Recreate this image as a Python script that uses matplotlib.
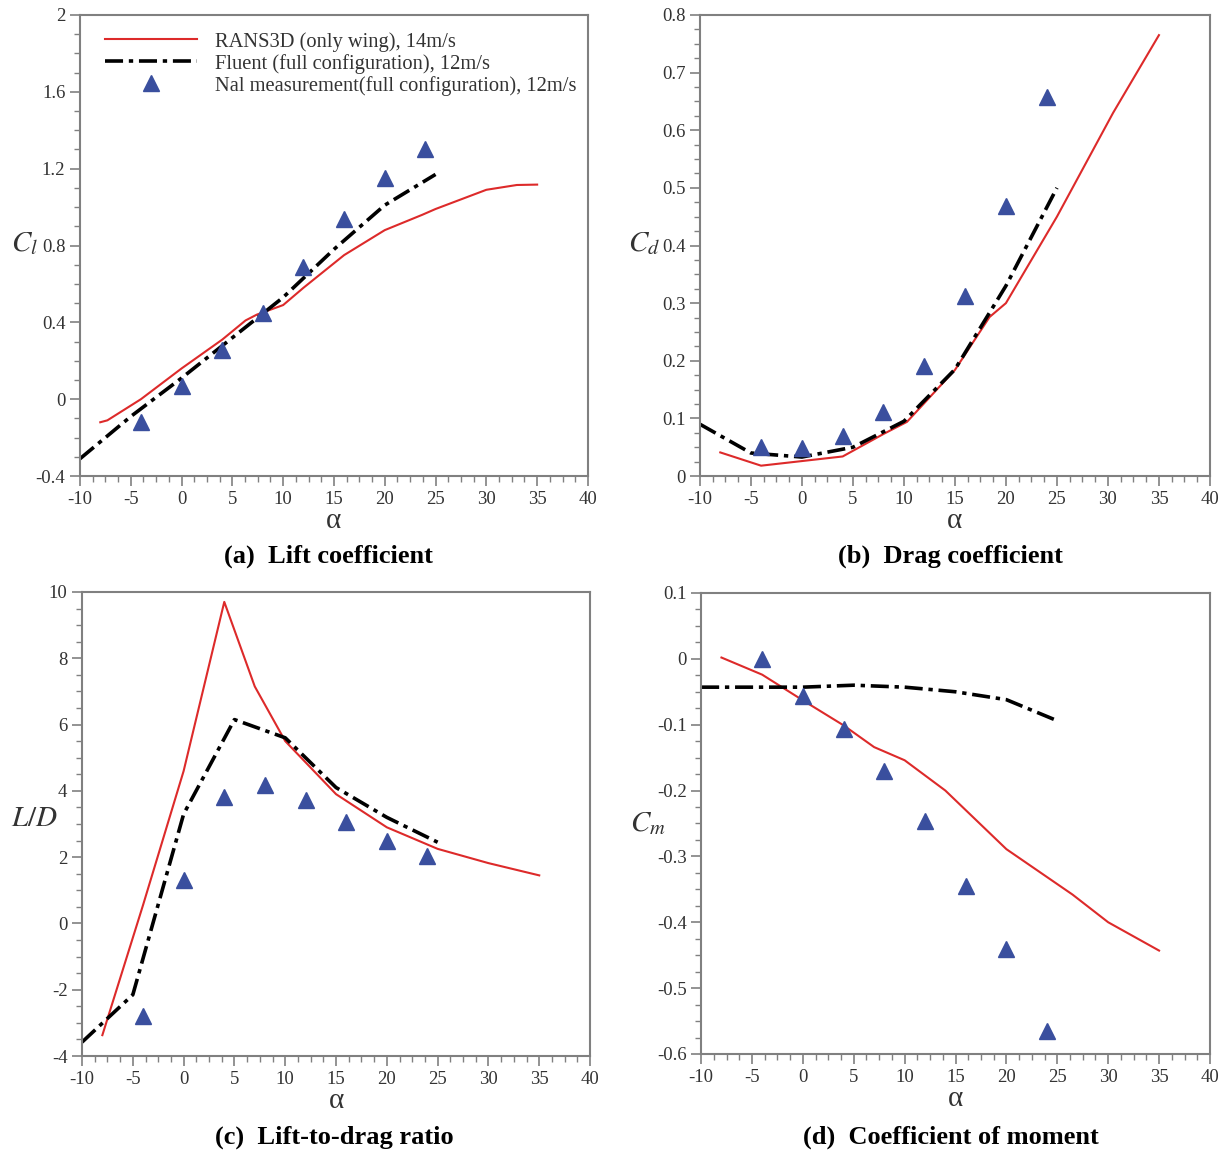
import numpy as np
import matplotlib
matplotlib.use("Agg")
import matplotlib.pyplot as plt
from matplotlib.ticker import MultipleLocator, FuncFormatter

plt.rcParams['font.family'] = ['Liberation Serif', 'DejaVu Serif']
plt.rcParams['mathtext.fontset'] = 'stix'
plt.rcParams['axes.unicode_minus'] = False

# --- data ---
# (a) lift coefficient
cl_rans_a = [-8, -7.3, -4, 0, 4, 6.3, 7.4, 10, 12, 16, 20, 23.7, 25, 30, 33, 35]
cl_rans = [-0.12, -0.11, 0.0, 0.16, 0.31, 0.41, 0.44, 0.49, 0.58, 0.75, 0.88, 0.96, 0.99, 1.09, 1.115, 1.117]
cl_flu_a = [-10, -5, 0, 5, 10, 15, 20, 25]
cl_flu = [-0.31, -0.09, 0.11, 0.32, 0.53, 0.78, 1.01, 1.17]
exp_a = [-4, 0, 4, 8, 12, 16, 20, 24]
cl_exp = [-0.12, 0.068, 0.254, 0.45, 0.687, 0.939, 1.153, 1.304]

# (b) drag coefficient
cd_rans_a = [-8, -4, 0, 4, 8, 10.3, 15, 18.4, 20, 25, 30.5, 35]
cd_rans = [0.041, 0.018, 0.026, 0.034, 0.073, 0.094, 0.184, 0.276, 0.30, 0.45, 0.63, 0.765]
cd_flu_a = [-10, -5, 0, 5, 10, 15, 20, 25]
cd_flu = [0.09, 0.04, 0.033, 0.05, 0.095, 0.185, 0.33, 0.50]
cd_exp = [0.051, 0.049, 0.070, 0.111, 0.191, 0.313, 0.468, 0.657]

# (c) lift-to-drag ratio
ld_rans_a = [-8, -4, 0, 4, 7, 10, 15, 20, 25, 30, 35]
ld_rans = [-3.37, 0.55, 4.6, 9.7, 7.15, 5.5, 3.9, 2.9, 2.25, 1.82, 1.45]
ld_flu_a = [-10, -5, 0, 5, 10, 15, 20, 25]
ld_flu = [-3.58, -2.15, 3.3, 6.15, 5.6, 4.1, 3.2, 2.45]
ld_exp = [-2.78, 1.3, 3.81, 4.18, 3.71, 3.07, 2.5, 2.02]

# (d) moment coefficient
cm_rans_a = [-8, -4, 0, 4, 7, 10, 14, 20, 26.5, 30, 35]
cm_rans = [0.002, -0.024, -0.063, -0.101, -0.134, -0.154, -0.20, -0.289, -0.358, -0.40, -0.443]
cm_flu_a = [-10, -5, 0, 5, 10, 15, 20, 25]
cm_flu = [-0.043, -0.043, -0.043, -0.040, -0.043, -0.050, -0.062, -0.094]
cm_exp = [0.0, -0.057, -0.106, -0.170, -0.246, -0.345, -0.441, -0.565]

labels = ['RANS3D (only wing), 14m/s',
          'Fluent (full configuration), 12m/s',
          'Nal measurement(full configuration), 12m/s']
captions = ['(a)  Lift coefficient', '(b)  Drag coefficient',
            '(c)  Lift-to-drag ratio', '(d)  Coefficient of moment']

RED = '#dd2a2a'
BLUE = '#3a4f9e'
FRAME = '#808080'
TXT = '#333333'

fig = plt.figure(figsize=(12.3, 11.51), dpi=100)

panels = [
    # rect, x_rans, y_rans, x_flu, y_flu, y_exp, ylim, major, minor, ylabel, label x, label y
    ([0.065, 0.5864, 0.413, 0.4006], cl_rans_a, cl_rans, cl_flu_a, cl_flu, cl_exp,
     (-0.4, 2.0), 0.4, 0.1, r'$C_l$', -0.11, 0.505),
    ([0.569, 0.5864, 0.4147, 0.4006], cd_rans_a, cd_rans, cd_flu_a, cd_flu, cd_exp,
     (0.0, 0.8), 0.1, 0.025, r'$C_d$', -0.11, 0.505),
    ([0.0667, 0.0825, 0.413, 0.4032], ld_rans_a, ld_rans, ld_flu_a, ld_flu, ld_exp,
     (-4, 10), 2, 0.5, r'$L/D$', -0.094, 0.51),
    ([0.570, 0.0843, 0.4137, 0.4005], cm_rans_a, cm_rans, cm_flu_a, cm_flu, cm_exp,
     (-0.6, 0.1), 0.1, 0.025, r'$C_m$', -0.105, 0.5),
]

cap_pos = [(0.267, 0.517), (0.773, 0.517), (0.272, 0.012), (0.773, 0.012)]

for i, (rect, xr, yr, xf, yf, ye, ylim, maj, mnr, ylab, lx, ly) in enumerate(panels):
    ax = fig.add_axes(rect)
    ax.plot(xr, yr, color=RED, lw=1.5, label=labels[0])
    ax.plot(xf, yf, color='black', lw=2.6, dashes=(5, 1.6, 1.2, 1.6), label=labels[1])
    ax.plot(exp_a, ye, linestyle='none', marker='^', ms=11, color=BLUE,
            markeredgecolor=BLUE, label=labels[2])

    ax.set_xlim(-10, 40)
    ax.set_ylim(*ylim)
    ax.xaxis.set_major_locator(MultipleLocator(5))
    ax.xaxis.set_minor_locator(MultipleLocator(1.25))
    ax.yaxis.set_major_locator(MultipleLocator(maj))
    ax.yaxis.set_minor_locator(MultipleLocator(mnr))
    fmt = FuncFormatter(lambda v, p: ('%g' % round(v, 3)))
    ax.xaxis.set_major_formatter(fmt)
    ax.yaxis.set_major_formatter(fmt)

    for s in ax.spines.values():
        s.set_color(FRAME)
        s.set_linewidth(1.5)
    ax.tick_params(which='both', direction='out', colors=FRAME, labelcolor=TXT,
                   labelsize=13.5, top=False, right=False)
    ax.tick_params(which='major', length=7, width=1.2)
    ax.tick_params(which='minor', length=4, width=1.0)

    ax.set_xlabel('α', fontsize=21, color=TXT, labelpad=0)
    ax.set_ylabel(ylab, fontsize=21, color=TXT, rotation=0, va='center', ha='center')
    ax.yaxis.set_label_coords(lx, ly)

    if i == 0:
        ax.legend(loc='upper left', bbox_to_anchor=(0.025, 0.99), frameon=False,
                  fontsize=14.8, handlelength=4.5, handletextpad=0.85,
                  labelspacing=0.1, borderaxespad=0.2, labelcolor=TXT)

    fig.text(cap_pos[i][0], cap_pos[i][1], captions[i], ha='center', va='center',
             fontsize=19, fontweight='bold')

fig.savefig('out.png', dpi=100)
